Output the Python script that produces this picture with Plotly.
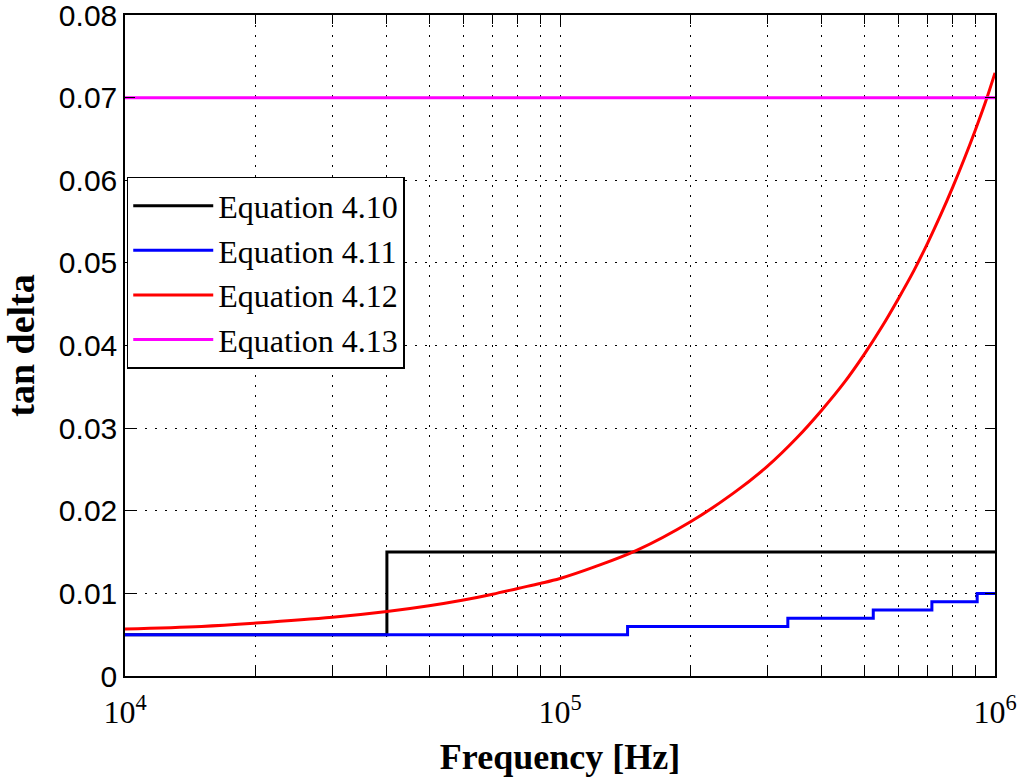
import plotly.graph_objects as go

# Equation 4.10 (step)
eq410_f = [1e4, 4e4, 1e6]
eq410_v = [0.005, 0.015, 0.015]

# Equation 4.11 (steps)
eq411_f = [1e4, 1.43e5, 3.34e5, 5.25e5, 7.16e5, 9.1e5, 1e6]
eq411_v = [0.005, 0.006, 0.007, 0.008, 0.009, 0.010, 0.010]

# Equation 4.12 (curve)
eq412_f = [1e4, 1.5e4, 2e4, 3e4, 4e4, 5e4, 6e4, 7e4, 8e4, 9e4, 1e5, 1.2e5, 1.5e5,
           2e5, 2.5e5, 3e5, 3.5e5, 4e5, 4.5e5, 5e5, 5.5e5, 6e5, 6.5e5, 7e5, 7.5e5,
           8e5, 8.5e5, 9e5, 9.5e5, 1e6]
eq412_v = [0.0057, 0.0060, 0.0064, 0.0071, 0.0078, 0.0085, 0.0092, 0.0099, 0.0106,
           0.0112, 0.0118, 0.0132, 0.0152, 0.0187, 0.0221, 0.0254, 0.0288, 0.0322,
           0.0355, 0.0389, 0.0423, 0.0457, 0.0490, 0.0524, 0.0558, 0.0592, 0.0626,
           0.0660, 0.0694, 0.0730]

# Equation 4.13 (constant)
eq413_f = [1e4, 1e6]
eq413_v = [0.07, 0.07]

names = ["Equation 4.10", "Equation 4.11", "Equation 4.12", "Equation 4.13"]
colors = ["#000000", "#0000ff", "#ff0000", "#ff00ff"]

y_ticks = [0, 0.01, 0.02, 0.03, 0.04, 0.05, 0.06, 0.07, 0.08]
y_ticktext = ["0", "0.01", "0.02", "0.03", "0.04", "0.05", "0.06", "0.07", "0.08"]
x_ticks = [1e4, 1e5, 1e6]
x_ticktext = ["10<sup>4</sup>", "10<sup>5</sup>", "10<sup>6</sup>"]

fig = go.Figure()
series = [(eq410_f, eq410_v, "hv"), (eq411_f, eq411_v, "hv"),
          (eq412_f, eq412_v, "spline"), (eq413_f, eq413_v, "linear")]
for i, (xf, yv, shp) in enumerate(series):
    fig.add_trace(go.Scatter(x=xf, y=yv, mode="lines", name=names[i],
                             legendgroup=f"g{i}",
                             line=dict(color=colors[i], width=3, shape=shp)))

grid = dict(showgrid=True, gridcolor="#000000", griddash="2px,8px", gridwidth=1)

fig.update_layout(
    width=1028, height=780,
    margin=dict(l=125, r=33, t=15, b=104),
    paper_bgcolor="white", plot_bgcolor="white",
    font=dict(family="Liberation Serif", color="black"),
    showlegend=True,
    legend=dict(x=0.002, y=0.755, xanchor="left", yanchor="top",
                bgcolor="white", bordercolor="black", borderwidth=1.5,
                font=dict(family="Liberation Serif", size=32, color="black"),
                itemwidth=80, tracegroupgap=0),
    xaxis=dict(type="log", range=[4, 6], automargin=False,
               tickvals=x_ticks, ticktext=x_ticktext,
               tickfont=dict(family="Liberation Serif", size=32),
               ticklabeloverflow="allow", ticklabelstandoff=7,
               ticks="inside", ticklen=10, tickcolor="black",
               showline=True, linecolor="black", linewidth=1.5, mirror="ticks",
               minor=dict(ticks="inside", ticklen=9, tickcolor="black",
                          showgrid=True, gridcolor="#000000", griddash="2px,8px",
                          dtick="D1"),
               title=dict(text="<b>Frequency [Hz]</b>",
                          font=dict(family="Liberation Serif", size=36)),
               zeroline=False, **grid),
    yaxis=dict(range=[0, 0.08], automargin=False,
               tickvals=y_ticks, ticktext=y_ticktext,
               tickfont=dict(family="Liberation Sans", size=30),
               ticklabeloverflow="allow",
               ticks="inside", ticklen=10, tickcolor="black",
               showline=True, linecolor="black", linewidth=1.5, mirror="ticks",
               title=dict(text="<b>tan delta</b>",
                          font=dict(family="Liberation Serif", size=38)),
               zeroline=False, **grid),
)

fig.write_html("out.html")
